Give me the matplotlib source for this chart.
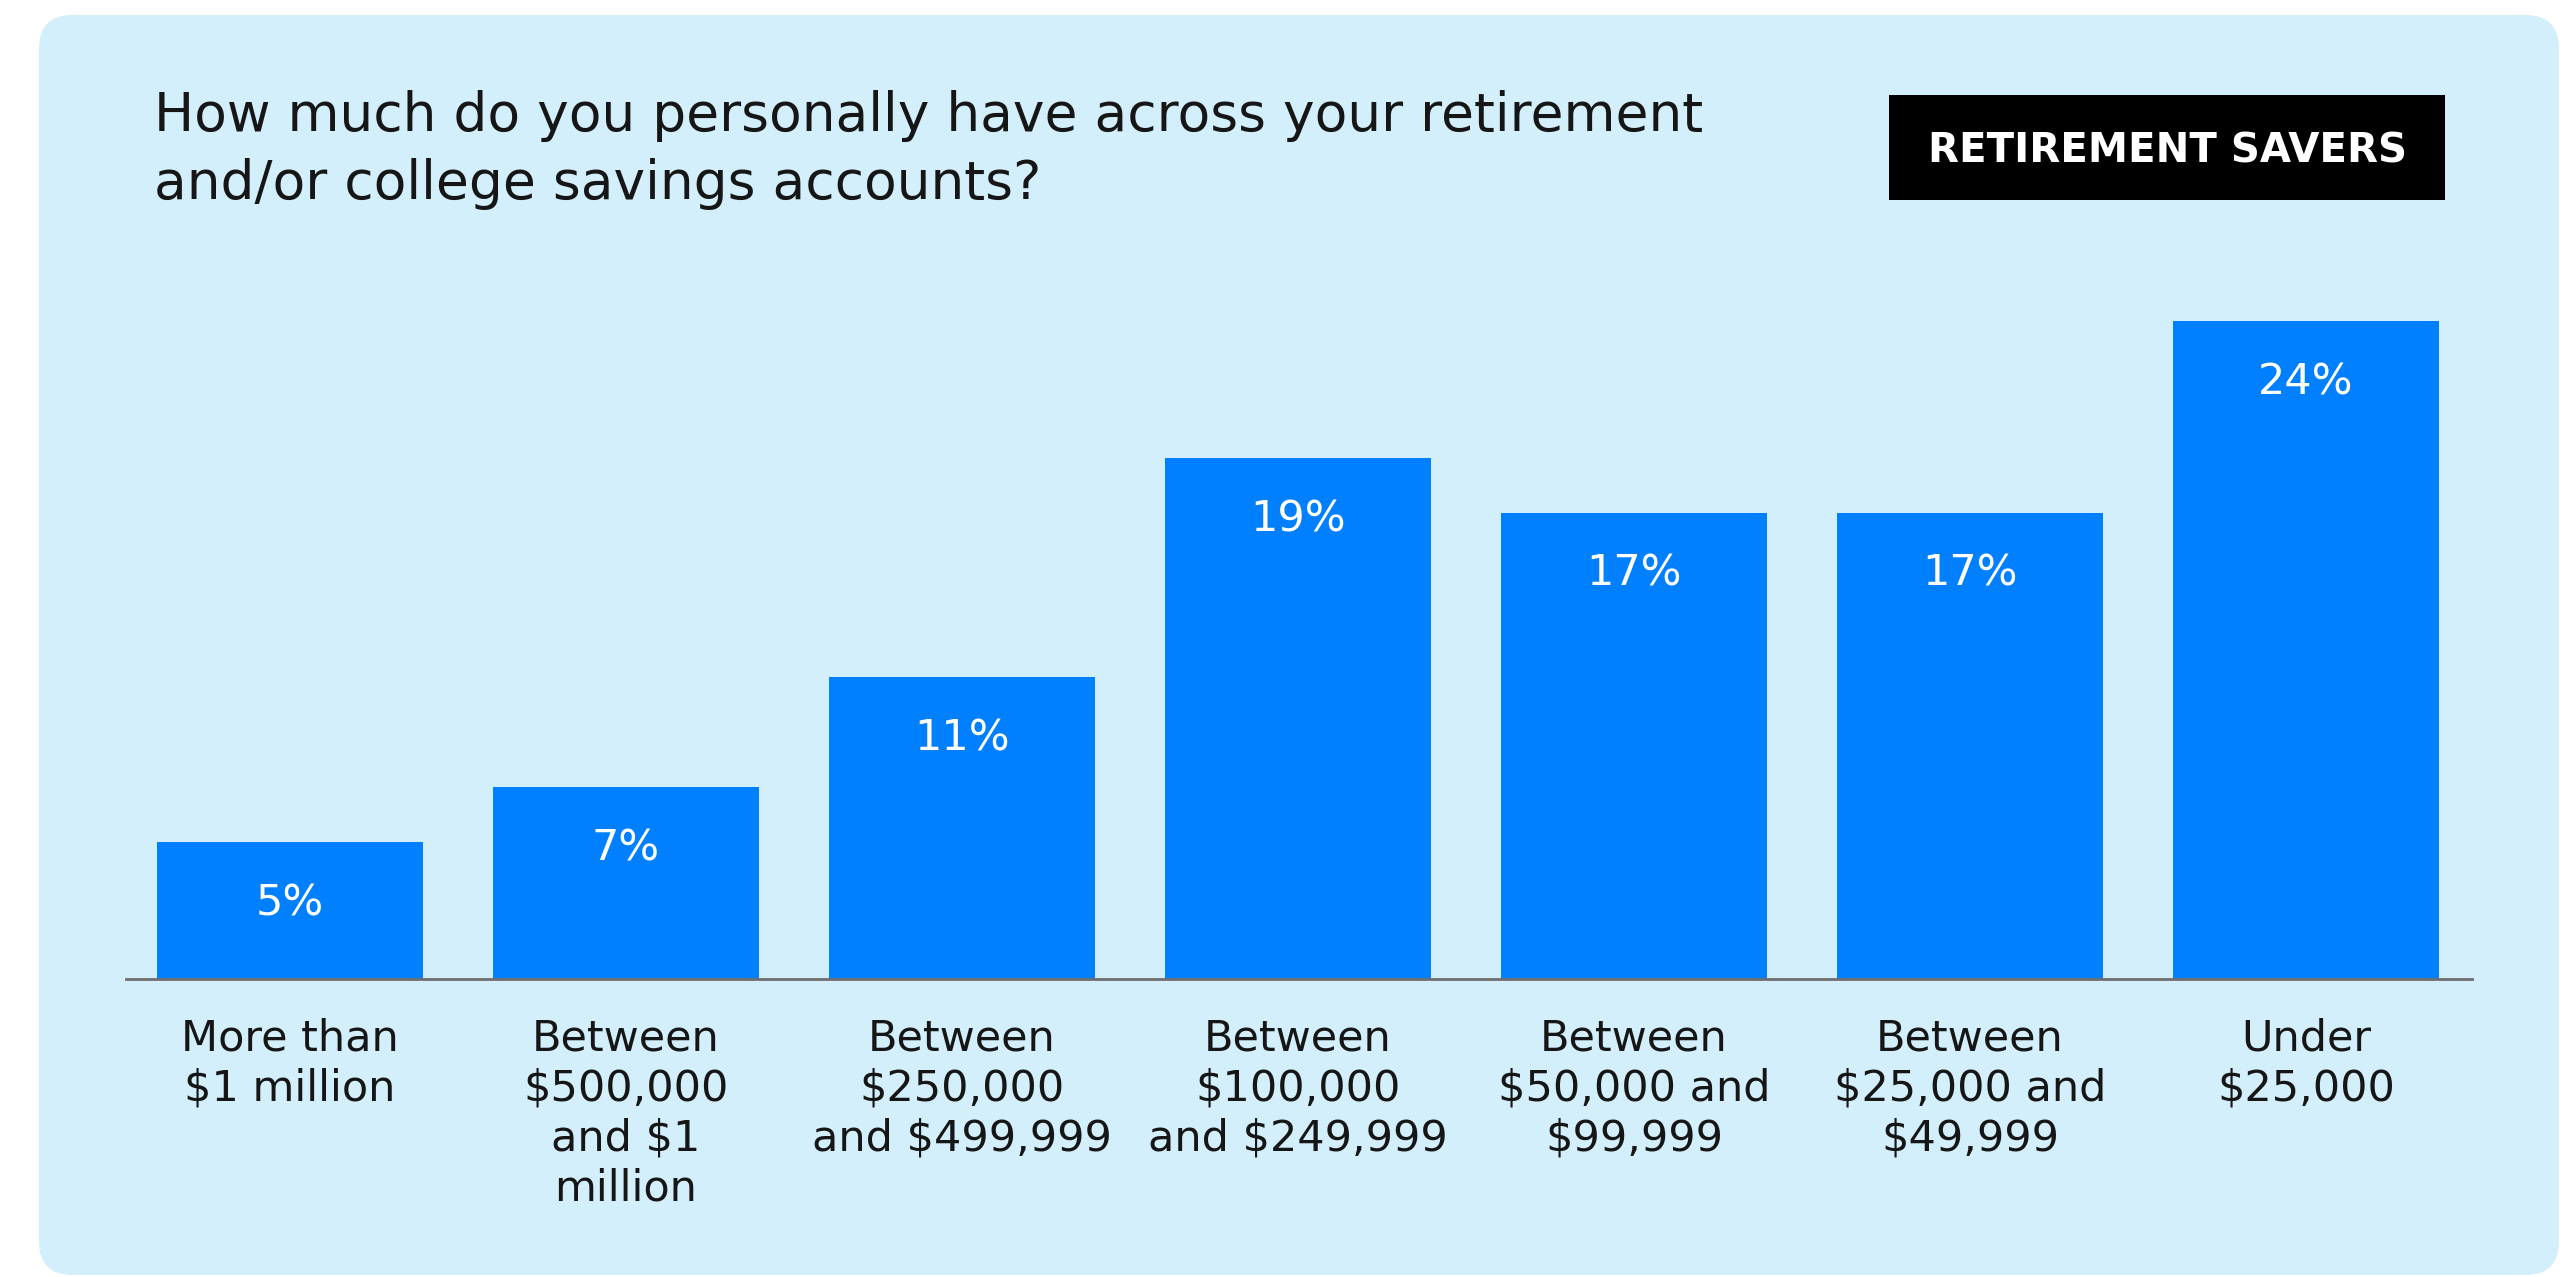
import matplotlib
matplotlib.use("Agg")
import matplotlib.pyplot as plt
from matplotlib.patches import FancyBboxPatch, Rectangle

plt.rcParams['font.family'] = ['DejaVu Sans']

# Survey data
categories = [
    "More than\n$1 million",
    "Between\n$500,000\nand $1\nmillion",
    "Between\n$250,000\nand $499,999",
    "Between\n$100,000\nand $249,999",
    "Between\n$50,000 and\n$99,999",
    "Between\n$25,000 and\n$49,999",
    "Under\n$25,000",
]
shares = [5, 7, 11, 19, 17, 17, 24]
value_labels = ["5%", "7%", "11%", "19%", "17%", "17%", "24%"]
title = "How much do you personally have across your retirement\nand/or college savings accounts?"
badge = "RETIREMENT SAVERS"

BG = "#D3EFFB"
BAR = "#0080FF"
INK = "#161616"

W, H = 2572, 1277
fig = plt.figure(figsize=(W / 100, H / 100), dpi=100)
fig.patch.set_facecolor("white")

# Rounded light-blue panel behind everything
panel = FancyBboxPatch((39 / W, (H - 1275) / H), (2559 - 39) / W, (1275 - 15) / H,
                       boxstyle="round,pad=0,rounding_size=0.013",
                       transform=fig.transFigure, facecolor=BG, edgecolor="none",
                       mutation_aspect=W / H, zorder=-10)
fig.patches.append(panel)

# Axes placement
ax_left, ax_right = 126, 2472
base_y = 979
ymax = 25
px_per_unit = 27.42
top_y = base_y - ymax * px_per_unit
ax = fig.add_axes([ax_left / W, 1 - base_y / H, (ax_right - ax_left) / W, (base_y - top_y) / H])
ax.set_facecolor("none")
ax.set_zorder(1)

x = list(range(len(categories)))
ax.bar(x, shares, width=0.79, color=BAR, zorder=2)
ax.set_xlim(-0.488, 6.494)
ax.set_ylim(0, ymax)

for s in ["top", "right", "left"]:
    ax.spines[s].set_visible(False)
ax.spines["bottom"].set_color("#6E6E6E")
ax.spines["bottom"].set_linewidth(2)
ax.spines["bottom"].set_zorder(3)
ax.set_yticks([])
ax.set_xticks(x)
ax.set_xticklabels(categories, fontsize=31, color=INK, linespacing=1.24, va="top")
ax.tick_params(axis="x", length=0, pad=28)

for xi, v, lab in zip(x, shares, value_labels):
    ax.annotate(lab, (xi, v), xytext=(0, -44), textcoords="offset points",
                ha="center", va="center", fontsize=31, color="white", zorder=4)

# Title
fig.text(154 / W, 1 - 90 / H, title, fontsize=38.4, color=INK, ha="left", va="top",
         linespacing=1.4, zorder=5)

# Badge
bx0, bx1, by0, by1 = 1889, 2445, 95, 200
fig.patches.append(Rectangle((bx0 / W, 1 - by1 / H), (bx1 - bx0) / W, (by1 - by0) / H,
                             transform=fig.transFigure, facecolor="black",
                             edgecolor="none", zorder=5))
fig.text((bx0 + bx1) / 2 / W, 1 - ((by0 + by1) / 2 + 4) / H, badge, fontsize=29,
         fontweight="bold", color="white", ha="center", va="center", zorder=6)

fig.savefig("out.png", dpi=100, facecolor=fig.get_facecolor())
